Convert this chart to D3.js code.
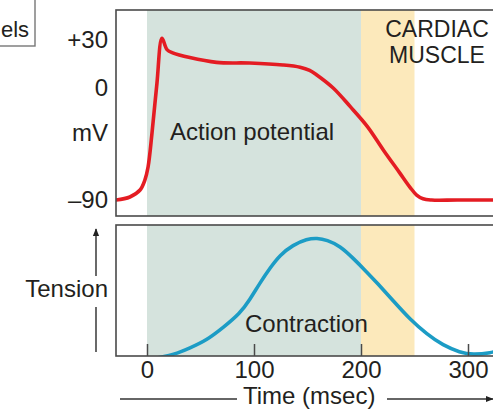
<!DOCTYPE html>
<html>
<head>
<meta charset="utf-8">
<script src="https://cdn.jsdelivr.net/npm/d3@7"></script>
<style>
  html, body { margin: 0; padding: 0; background: #fff; }
  svg { display: block; font-family: "Liberation Sans", Arial, sans-serif; }
</style>
</head>
<body>
<svg id="chart" width="493" height="411"></svg>
<script>
// ---- data ----
const phaseNames = ["depolarized", "refractory"];
const phaseStart = [0, 200];
const phaseEnd = [200, 250];
const phaseColors = ["#d5e3dd", "#fce9bb"];

const apTime = [-29, -16, -6.5, -2, 1, 4.7, 9.3, 14, 18.7, 24, 40, 65, 96, 127, 143, 152, 159, 174, 190, 206, 221, 236, 246, 252, 258, 266, 290, 340];
const apMv   = [-90, -87.6, -82, -74, -63.5, -36, 3, 31, 24, 22, 19, 16, 15.6, 14.4, 13, 11, 8, 0, -15, -31, -50, -68, -80, -86, -89, -90, -90, -90];

const tenTime = [4, 12, 24.3, 40.2, 56.1, 71, 86.9, 96.3, 105.6, 115, 124.3, 136.4, 149.5, 158.9, 168.2, 180.4, 192.5, 205.6, 215, 229.9, 245.8, 261.7, 276.6, 292.5, 304.7, 320.6, 335];
const tenVal  = [-3, -1, 0.9, 6.8, 13.6, 24, 36, 48, 62, 74.6, 85.6, 94.1, 99.2, 100, 98.3, 93.2, 83, 71, 62, 47, 31, 18.5, 9, 3, 1, 2.5, 6];

const timeTicks = [0, 100, 200, 300];
const mvTicks = [30, 0, -90];
const mvTickLabels = ["+30", "0", "\u201390"];

// ---- layout ----
const svg = d3.select("#chart");
const left = 116, right = 540;
const top1 = 10, bot1 = 216;
const top2 = 225, bot2 = 356;
const FS = 24;
const textColor = "#231f20";
const frameColor = "#4a4a4a";

const x = d3.scaleLinear().domain([0, 300]).range([147, 468]);
const yMv = d3.scaleLinear().domain([-90, 0, 30]).range([200, 88, 40]);
const yTen = d3.scaleLinear().domain([0, 100]).range([bot2, 238]);

const defs = svg.append("defs");
defs.append("clipPath").attr("id", "clip1").append("rect")
  .attr("x", left).attr("y", top1).attr("width", right - left).attr("height", bot1 - top1);
defs.append("clipPath").attr("id", "clip2").append("rect")
  .attr("x", left).attr("y", top2).attr("width", right - left).attr("height", bot2 - top2);
defs.append("marker").attr("id", "arrow").attr("viewBox", "0 0 10 10")
  .attr("refX", 9).attr("refY", 5).attr("markerWidth", 8).attr("markerHeight", 8)
  .attr("markerUnits", "userSpaceOnUse").attr("orient", "auto")
  .append("path").attr("d", "M0,1 L10,5 L0,9 Z").attr("fill", "#222");

// shading bands
[[top1, bot1], [top2, bot2]].forEach(([t, b]) => {
  svg.append("g").selectAll("rect").data(phaseNames).join("rect")
    .attr("x", (d, i) => x(phaseStart[i]))
    .attr("width", (d, i) => x(phaseEnd[i]) - x(phaseStart[i]))
    .attr("y", t).attr("height", b - t)
    .attr("fill", (d, i) => phaseColors[i]);
});

// curves
const apLine = d3.line().x((d, i) => x(apTime[i])).y(d => yMv(d)).curve(d3.curveCatmullRom.alpha(0.5));
svg.append("path").attr("clip-path", "url(#clip1)")
  .attr("d", apLine(apMv)).attr("fill", "none")
  .attr("stroke", "#e41c23").attr("stroke-width", 3.6)
  .attr("stroke-linejoin", "round").attr("stroke-linecap", "round");

const tenLine = d3.line().x((d, i) => x(tenTime[i])).y(d => yTen(d)).curve(d3.curveBasis);
svg.append("path").attr("clip-path", "url(#clip2)")
  .attr("d", tenLine(tenVal)).attr("fill", "none")
  .attr("stroke", "#1c9cc5").attr("stroke-width", 3.6)
  .attr("stroke-linecap", "round");

// x axis (bottom panel)
const xAxis = d3.axisBottom(x).tickValues(timeTicks).tickSizeInner(-12).tickSizeOuter(0).tickPadding(5);
const gx = svg.append("g").attr("transform", `translate(0,${bot2})`).call(xAxis);
gx.select(".domain").remove();
gx.selectAll(".tick line").attr("stroke", frameColor).attr("stroke-width", 1.5);
gx.selectAll(".tick text").attr("font-size", FS).attr("fill", textColor)
  .attr("font-family", "Liberation Sans, Arial, sans-serif");

// y axis (top panel)
const yAxis = d3.axisLeft(yMv).tickValues(mvTicks).tickSize(0).tickPadding(8)
  .tickFormat((d, i) => mvTickLabels[i]);
const gy = svg.append("g").attr("transform", `translate(${left},0)`).call(yAxis);
gy.select(".domain").remove();
gy.selectAll(".tick text").attr("font-size", FS).attr("fill", textColor)
  .attr("font-family", "Liberation Sans, Arial, sans-serif");

// frames
svg.append("rect").attr("x", left).attr("y", top1).attr("width", right - left).attr("height", bot1 - top1)
  .attr("fill", "none").attr("stroke", frameColor).attr("stroke-width", 1.6);
svg.append("rect").attr("x", left).attr("y", top2).attr("width", right - left).attr("height", bot2 - top2)
  .attr("fill", "none").attr("stroke", frameColor).attr("stroke-width", 1.6);

// truncated boxed label at top-left
svg.append("rect").attr("x", -10).attr("y", -10).attr("width", 45).attr("height", 56)
  .attr("fill", "#fff").attr("stroke", "#777").attr("stroke-width", 1.4);
const txt = (s, xx, yy, anchor, fs) => svg.append("text").text(s)
  .attr("x", xx).attr("y", yy).attr("text-anchor", anchor || "start")
  .attr("font-size", fs || FS).attr("fill", textColor);
txt("els", 1, 37, "start", 22);

// labels
txt("mV", 108, 141, "end");
txt("Action potential", 170, 140);
txt("CARDIAC", 437, 37, "middle", 23);
txt("MUSCLE", 437, 63, "middle", 23);
txt("Contraction", 245, 332);
txt("Tension", 108, 297, "end");
txt("Time (msec)", 243, 404);

// tension arrow
svg.append("line").attr("x1", 96).attr("x2", 96).attr("y1", 276).attr("y2", 229)
  .attr("stroke", "#444").attr("stroke-width", 1.6).attr("marker-end", "url(#arrow)");
svg.append("line").attr("x1", 96).attr("x2", 96).attr("y1", 307).attr("y2", 352)
  .attr("stroke", "#444").attr("stroke-width", 1.6);

// time arrow
svg.append("line").attr("x1", 120).attr("x2", 237).attr("y1", 399).attr("y2", 399)
  .attr("stroke", "#333").attr("stroke-width", 1.4);
svg.append("line").attr("x1", 387).attr("x2", 493).attr("y1", 399).attr("y2", 399)
  .attr("stroke", "#333").attr("stroke-width", 1.4).attr("marker-end", "url(#arrow)");
</script>
</body>
</html>
